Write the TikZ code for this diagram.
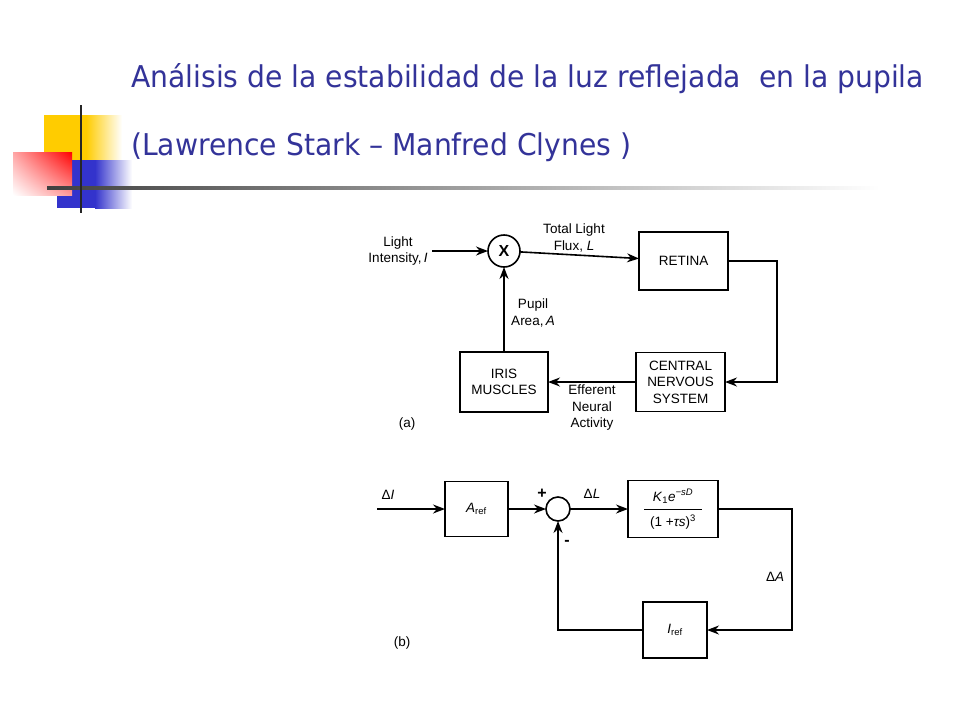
\documentclass[tikz,border=0pt]{standalone}
\usepackage{fontspec}
\setmainfont{Liberation Sans}
\newfontfamily\titlefont[FakeStretch=0.94]{DejaVu Sans}
\usepackage{xcolor}
\usetikzlibrary{arrows.meta,shadings}
\definecolor{titleblue}{HTML}{333399}
\definecolor{slideyellow}{HTML}{FFCC00}
\definecolor{slideblue}{HTML}{3333CC}

\begin{document}
\begin{tikzpicture}[x=1pt, y=-1pt,
    block/.style={draw, line width=1.6pt, minimum width=89pt, minimum height=58pt, align=center, font=\fontsize{13.5}{16.5}\selectfont, outer sep=0pt},
    smallblock/.style={block, minimum width=63pt, minimum height=55pt},
    junction/.style={circle, draw, line width=1.6pt, inner sep=0pt, outer sep=0pt},
    lbl/.style={align=center, font=\fontsize{13.5}{16.5}\selectfont, inner sep=0pt},
    arr/.style={line width=1.6pt, -{Stealth[length=12pt, width=9pt]}}]
    \useasboundingbox[fill=white] (0,0) rectangle (960,720);

    % Slide decoration
    \fill[slideyellow] (44,115) rectangle (86,160);
    \shade[left color=slideyellow, right color=white] (86,115) rectangle (122,160);
    \fill[slideblue] (57,160) rectangle (95,208);
    \shade[left color=slideblue, right color=white] (95,160) rectangle (132,208);
    \shade[upper left=red!35, upper right=red, lower left=white, lower right=red!40] (13,152) rectangle (72,195);
    \shade[left color=black!75, right color=white] (47,186.5) rectangle (880,189.5);
    \draw[line width=2.5pt, black!85] (81,105) -- (81,213);

    % Title
    \node[anchor=base west, inner sep=0pt, text=titleblue, font=\titlefont\fontsize{30}{36}\selectfont] (title1) at (131,87) {Análisis de la estabilidad de la luz reflejada\ \ en la pupila};
    \node[anchor=base west, inner sep=0pt, text=titleblue, font=\titlefont\fontsize{30}{36}\selectfont] (title2) at (131,155) {(Lawrence Stark – Manfred Clynes )};

    % Diagram (a)
    \coordinate (lightin) at (432,251);
    \node[junction, minimum size=32pt, font=\bfseries\fontsize{16}{16}\selectfont] (mult) at (504,251) {X};
    \node[block] (retina) at (683.5,261) {RETINA};
    \node[block, minimum height=59pt] (cns) at (680.5,382) {CENTRAL\\NERVOUS\\SYSTEM};
    \node[block, minimum width=88pt, minimum height=60pt] (iris) at (504,382) {IRIS\\MUSCLES};
    \draw[arr] (lightin) -- (mult);
    \draw[arr] (mult) -- (retina);
    \draw[arr] (retina.east) -- ++(49,0) |- (cns.east);
    \draw[arr] (cns.west) -- (iris.east);
    \draw[arr] (iris.north) -- (mult.south);
    \node[lbl] (lightlbl) at (398,251) {Light\\Intensity,\,\textit{I}};
    \node[lbl] (fluxlbl) at (574,238) {Total Light\\Flux, \textit{L}};
    \node[lbl] (pupillbl) at (533,313) {Pupil\\Area,\,\textit{A}};
    \node[lbl] (efflbl) at (592,408) {Efferent\\Neural\\Activity};
    \node[lbl] (alabel) at (407,424) {(a)};

    % Diagram (b)
    \coordinate (deltain) at (377,509);
    \node[smallblock] (aref) at (476.5,509) {\textit{A}\textsubscript{ref}};
    \node[junction, minimum size=24pt] (sum) at (558,509) {};
    \node[block, minimum width=90pt, minimum height=57pt] (gain) at (673,509) {{\renewcommand{\arraystretch}{1.5}\setlength{\tabcolsep}{6pt}\setlength{\arrayrulewidth}{1pt}\begin{tabular}{c}\textit{K}\textsubscript{1}\textit{e}\textsuperscript{\textit{−sD}}\\\hline (1 +\textit{τs})\textsuperscript{3}\end{tabular}}};
    \node[smallblock, minimum width=64pt, minimum height=56pt] (iref) at (675,630) {\textit{I}\textsubscript{ref}};
    \draw[arr] (deltain) -- (aref);
    \draw[arr] (aref) -- (sum);
    \draw[arr] (sum) -- (gain);
    \draw[arr] (gain.east) -- ++(74,0) |- (iref.east);
    \draw[arr] (iref.west) -| (sum.south);
    \node[lbl] (dilbl) at (388,495) {Δ\textit{I}};
    \node[lbl, font=\bfseries\fontsize{16}{16}\selectfont] (pluslbl) at (542,494) {+};
    \node[lbl, font=\bfseries\fontsize{16}{16}\selectfont] (minuslbl) at (567,543) {-};
    \node[lbl] (dllbl) at (592,494) {Δ\textit{L}};
    \node[lbl] (dalbl) at (775,577) {Δ\textit{A}};
    \node[lbl] (blabel) at (402,643) {(b)};
\end{tikzpicture}
\end{document}
